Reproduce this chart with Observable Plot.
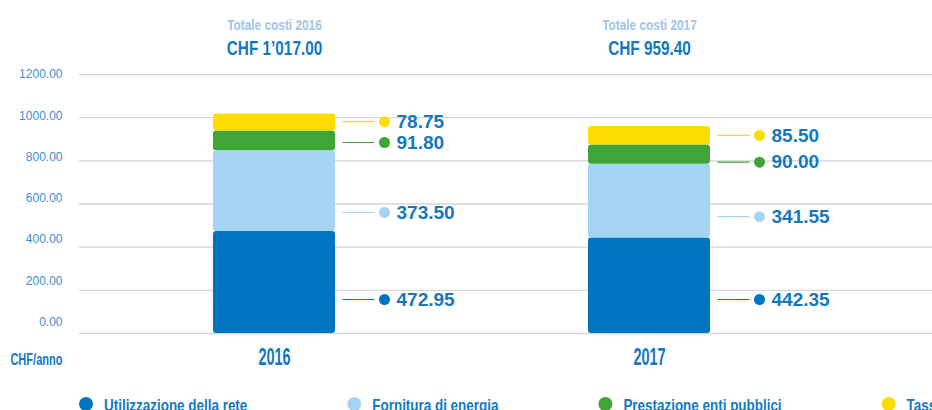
<!DOCTYPE html>
<html><head><meta charset="utf-8">
<script src="https://cdn.jsdelivr.net/npm/d3@7"></script>
<script src="https://cdn.jsdelivr.net/npm/@observablehq/plot@0.6"></script>
<style>
html,body{margin:0;padding:0;background:#fff;overflow:hidden;font-family:"Liberation Sans",Arial,sans-serif;}
#chart svg,#legend svg{display:block}
</style></head><body><div id="chart"></div><div id="legend"></div>
<script>
// ---- data ----
const years = ["2016", "2017"];
const categories = ["Utilizzazione della rete", "Fornitura di energia", "Prestazione enti pubblici", "Tasse"];
const values2016 = [472.95, 373.50, 91.80, 78.75];
const values2017 = [442.35, 341.55, 90.00, 85.50];
const yTicks = [0, 200, 400, 600, 800, 1000, 1200];
const titlePrefix = "Totale costi";
const unitLabel = "CHF/anno";

// ---- style / layout ----
const colors = ["#0075bf", "#a3d4f3", "#3ea536", "#ffdc00"];
const textBlue = "#1279c0";
const labelFrac = {"2016": [0.333, 0.235, 0.42, 0.55], "2017": [0.356, 0.29, 0.11, 0.51]};

const seriesByYear = {"2016": values2016, "2017": values2017};
const rows = [];
for (const y of years) {
  let acc = 0;
  seriesByYear[y].forEach((v, i) => {
    rows.push({year: y, category: categories[i], value: v, labelY: acc + v * labelFrac[y][i]});
    acc += v;
  });
}
const totals = years.map(y => ({year: y, total: d3.sum(seriesByYear[y])}));
const chf = d3.formatLocale({decimal: ".", thousands: "\u2019", grouping: [3], currency: ["", ""]}).format(",.2f");

const hline = {draw(ctx) { ctx.moveTo(-16, 0); ctx.lineTo(16, 0); }};

const chart = Plot.plot({
  width: 932, height: 380,
  marginTop: 74, marginBottom: 47, marginLeft: 79, marginRight: 0,
  style: {fontFamily: "'Liberation Sans', Arial, sans-serif", background: "#fff"},
  x: {domain: years, range: [212, 710], paddingInner: 0.6755, paddingOuter: 0, axis: null},
  y: {domain: [0, 1200], axis: null},
  color: {domain: categories, range: colors},
  marks: [
    Plot.ruleY(yTicks, {stroke: "#d6d6d6", strokeWidth: 1.3}),
    Plot.text(yTicks, {y: d => d + (1200 - d) * 0.044, text: d => d.toFixed(2), frameAnchor: "left", dx: -17, textAnchor: "end", fill: "#3b8fd0", fontSize: 12}),
    Plot.rectY(rows, Plot.stackY({x: "year", y: "value", fill: "category", rx: 3})),
    Plot.dot(rows, {x: "year", y: "labelY", symbol: hline, stroke: "category", fill: "none", r: 5, dx: 84, strokeWidth: 1.2}),
    Plot.dot(rows, {x: "year", y: "labelY", fill: "category", r: 5.5, dx: 110}),
    Plot.text(rows, {x: "year", y: "labelY", text: d => d.value.toFixed(2), dx: 122, textAnchor: "start", fill: textBlue, fontSize: 19, fontWeight: "bold"}),
    Plot.text(totals, {x: "year", text: d => `${titlePrefix} ${d.year}`, frameAnchor: "top", lineAnchor: "middle", dy: -49.5, fill: "#a0c4ea", fontSize: 15, fontWeight: "bold", ariaLabel: () => "ttl-a"}),
    Plot.text(totals, {x: "year", text: d => `CHF ${chf(d.total)}`, frameAnchor: "top", lineAnchor: "middle", dy: -26.5, fill: textBlue, fontSize: 21, fontWeight: "bold", ariaLabel: () => "ttl-b"}),
    Plot.text(years, {x: d => d, text: d => d, frameAnchor: "bottom", lineAnchor: "middle", dy: 24, fill: textBlue, fontSize: 23, fontWeight: "bold", ariaLabel: () => "yr"}),
    Plot.text([unitLabel], {frameAnchor: "bottom-left", lineAnchor: "middle", dx: -17, dy: 26, textAnchor: "end", fill: textBlue, fontSize: 16, fontWeight: "bold", ariaLabel: () => "unit"})
  ]
});
document.getElementById("chart").append(chart);

function condense(root, key, k) {
  root.querySelectorAll(`text[aria-label="${key}"], g[aria-label="${key}"] text`).forEach(t => {
    const w = t.getComputedTextLength();
    t.setAttribute("textLength", (w * k).toFixed(1));
    t.setAttribute("lengthAdjust", "spacingAndGlyphs");
  });
}
condense(chart, "ttl-a", 0.79);
condense(chart, "ttl-b", 0.73);
condense(chart, "yr", 0.63);
condense(chart, "unit", 0.69);

// ---- legend ----
const lg = d3.create("svg").attr("width", 932).attr("height", 30);
document.getElementById("legend").append(lg.node());
let lx = 86;
categories.forEach((c, i) => {
  lg.append("circle").attr("cx", lx).attr("cy", 24).attr("r", 7).attr("fill", colors[i]);
  const t = lg.append("text").attr("x", lx + 18).attr("y", 31)
    .attr("fill", textBlue).attr("font-size", 17).attr("font-weight", "bold")
    .attr("font-family", "'Liberation Sans', Arial, sans-serif").text(c);
  const w = t.node().getComputedTextLength() * 0.79;
  t.attr("textLength", w.toFixed(1)).attr("lengthAdjust", "spacingAndGlyphs");
  lx = lx + 18 + w + 100 + 7;
});
</script>
</body></html>
